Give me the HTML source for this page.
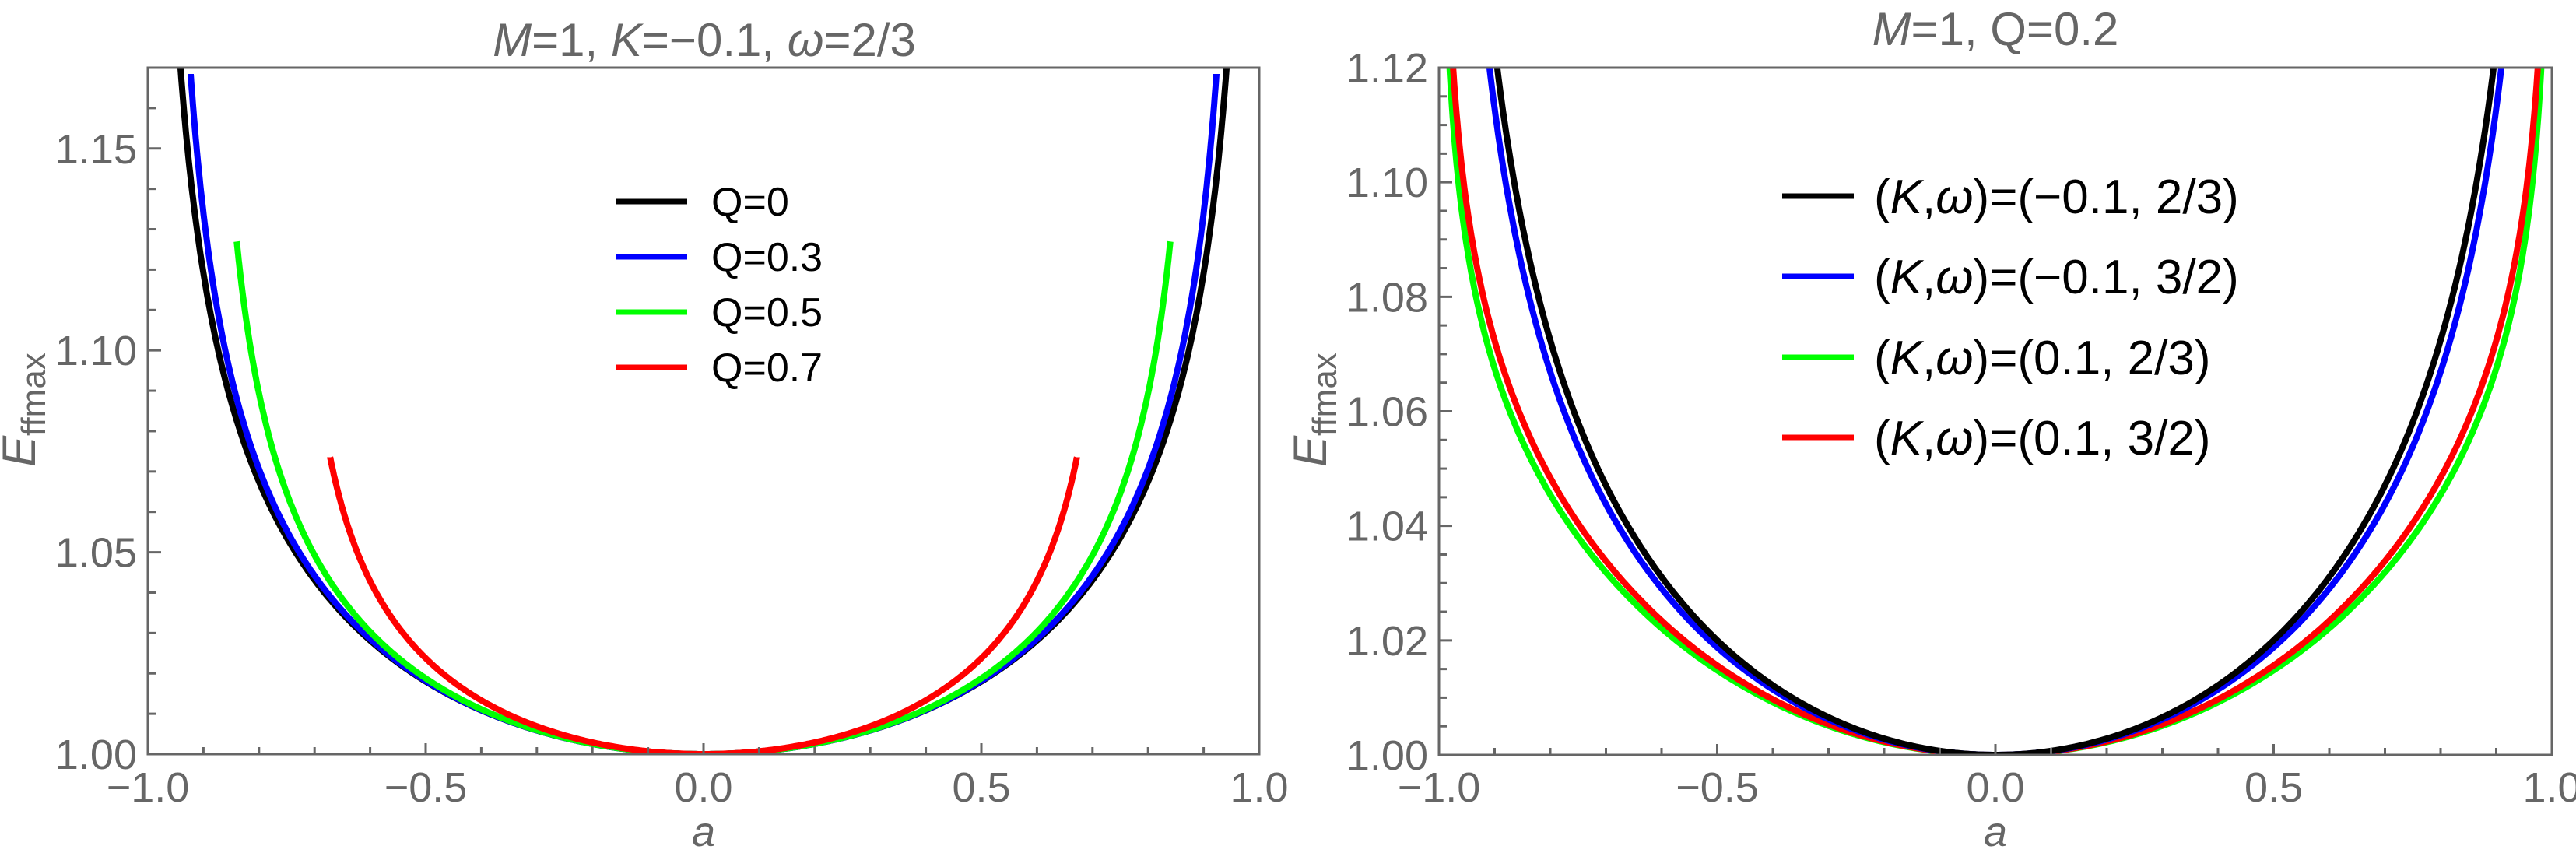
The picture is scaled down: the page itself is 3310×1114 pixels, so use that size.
<!DOCTYPE html>
<html><head><meta charset="utf-8">
<style>
html,body{margin:0;padding:0;background:#fff;}
svg{display:block;}
text{font-family:"Liberation Sans",Arial,sans-serif;}
</style></head>
<body>
<svg id="s" width="3310" height="1114" viewBox="0 0 3310 1114" xmlns="http://www.w3.org/2000/svg">
<defs>
<clipPath id="c1"><rect x="190" y="87" width="1428" height="882"/></clipPath>
<clipPath id="c2"><rect x="1849" y="87" width="1430" height="883"/></clipPath>
</defs>
<g id="g1" clip-path="url(#c1)"></g>
<g id="g2" clip-path="url(#c2)"></g>
<g id="ax" stroke="#666" stroke-width="3" fill="none"></g>
<g id="tx" fill="#666" font-size="54"></g>

<text x="905" y="72" font-size="60" fill="#666" text-anchor="middle"><tspan font-style="italic">M</tspan>=1, <tspan font-style="italic">K</tspan>=−0.1, <tspan font-style="italic">ω</tspan>=2/3</text>
<text x="2564" y="58" font-size="60" fill="#666" text-anchor="middle"><tspan font-style="italic">M</tspan>=1, Q=0.2</text>

<text x="904" y="1087" font-size="54" fill="#666" font-style="italic" text-anchor="middle" font-family="Liberation Serif,serif">a</text>
<text x="2564" y="1087" font-size="54" fill="#666" font-style="italic" text-anchor="middle" font-family="Liberation Serif,serif">a</text>

<text transform="translate(45,600) rotate(-90)" font-size="60" fill="#666"><tspan font-style="italic">E</tspan><tspan font-size="44" dy="13">ffmax</tspan></text>
<text transform="translate(1704,600) rotate(-90)" font-size="60" fill="#666"><tspan font-style="italic">E</tspan><tspan font-size="44" dy="13">ffmax</tspan></text>

<!-- legend left -->
<g stroke-width="7">
<line x1="792" y1="259" x2="883" y2="259" stroke="#000"/>
<line x1="792" y1="330" x2="883" y2="330" stroke="#0000ff"/>
<line x1="792" y1="401" x2="883" y2="401" stroke="#00ff00"/>
<line x1="792" y1="472" x2="883" y2="472" stroke="#ff0000"/>
</g>
<g font-size="52" fill="#000">
<text x="914" y="277">Q=0</text>
<text x="914" y="348">Q=0.3</text>
<text x="914" y="419">Q=0.5</text>
<text x="914" y="490">Q=0.7</text>
</g>
<!-- legend right -->
<g stroke-width="7">
<line x1="2290" y1="252" x2="2382" y2="252" stroke="#000"/>
<line x1="2290" y1="355" x2="2382" y2="355" stroke="#0000ff"/>
<line x1="2290" y1="459" x2="2382" y2="459" stroke="#00ff00"/>
<line x1="2290" y1="562" x2="2382" y2="562" stroke="#ff0000"/>
</g>
<g font-size="62" fill="#000">
<text x="2408" y="274">(<tspan font-style="italic">K</tspan>,<tspan font-style="italic">ω</tspan>)=(−0.1, 2/3)</text>
<text x="2408" y="377">(<tspan font-style="italic">K</tspan>,<tspan font-style="italic">ω</tspan>)=(−0.1, 3/2)</text>
<text x="2408" y="481">(<tspan font-style="italic">K</tspan>,<tspan font-style="italic">ω</tspan>)=(0.1, 2/3)</text>
<text x="2408" y="584">(<tspan font-style="italic">K</tspan>,<tspan font-style="italic">ω</tspan>)=(0.1, 3/2)</text>
</g>
</svg>
<script>
(function(){
var NS="http://www.w3.org/2000/svg";
function el(p,t,a,txt){var e=document.createElementNS(NS,t);for(var k in a)e.setAttribute(k,a[k]);if(txt!=null)e.textContent=txt;p.appendChild(e);return e;}
var ax=document.getElementById('ax'),tx=document.getElementById('tx');
function panel(L,R,T,B,ymin,ymax,ymaj,ymin_step,ydec,g,curves){
  el(ax,'rect',{x:L,y:T,width:R-L,height:B-T});
  var X=function(a){return L+(a+1)/2*(R-L);};
  var Y=function(e){return B-(e-ymin)/(ymax-ymin)*(B-T);};
  for(var i=-10;i<=10;i++){var a=i/10;var maj=(i%5==0);var x=X(a);
    if(i>-10&&i<10) el(ax,'line',{x1:x,y1:B,x2:x,y2:B-(maj?14:9)});
    if(maj) el(tx,'text',{x:x,y:1030,'text-anchor':'middle'},(a<0?'−':'')+Math.abs(a).toFixed(1));}
  var n=Math.round((ymax-ymin)/ymin_step);
  for(var j=0;j<=n;j++){var e=ymin+j*ymin_step;var y=Y(e);
    var maj=Math.abs((e-ymin)/ymaj-Math.round((e-ymin)/ymaj))<1e-6;
    if(y<T-0.5) continue;
    if(j>0) el(ax,'line',{x1:L,y1:y,x2:L+(maj?17:10),y2:y});
    if(maj) el(tx,'text',{x:L-14,y:y+19,'text-anchor':'end'},e.toFixed(ydec));}
  var G=document.getElementById(g);
  curves.forEach(function(c){
    var pts=[];var N=600;
    for(var k=0;k<=N;k++){var t=-1+2*k/N;var a=c.m*Math.sign(t)*(1-Math.pow(1-Math.abs(t),1.6));
      var u=1-Math.pow(a/c.A,2);if(u<=0)u=1e-6;
      var e=1+c.c*a*a/Math.pow(u,c.p);
      var y=Y(e);if(y<T-40)y=T-40;
      pts.push(X(a).toFixed(1)+','+y.toFixed(1));}
    el(G,'polyline',{points:pts.join(' '),fill:'none',stroke:c.col,'stroke-width':8,'stroke-linejoin':'round'});
  });
}
panel(190,1618,87,969,1.0,1.17,0.05,0.01,2,'g1',[
  {col:'#000',c:0.062,A:1.0,p:0.52,m:0.96},
  {col:'#0000ff',c:0.062,A:0.977,p:0.52,m:0.923},
  {col:'#00ff00',c:0.062,A:0.9,p:0.52,m:0.84},
  {col:'#ff0000',c:0.07,A:0.75,p:0.52,m:0.672}
]);
panel(1849,3279,87,970,1.0,1.12,0.02,0.005,2,'g2',[
  {col:'#00ff00',c:0.055,A:1.0,p:0.25,m:0.999},
  {col:'#ff0000',c:0.058,A:1.0,p:0.26,m:0.999},
  {col:'#0000ff',c:0.066,A:1.0,p:0.45,m:0.99},
  {col:'#000',c:0.07,A:1.0,p:0.47,m:0.99}
]);
})();
</script>
</body></html>
